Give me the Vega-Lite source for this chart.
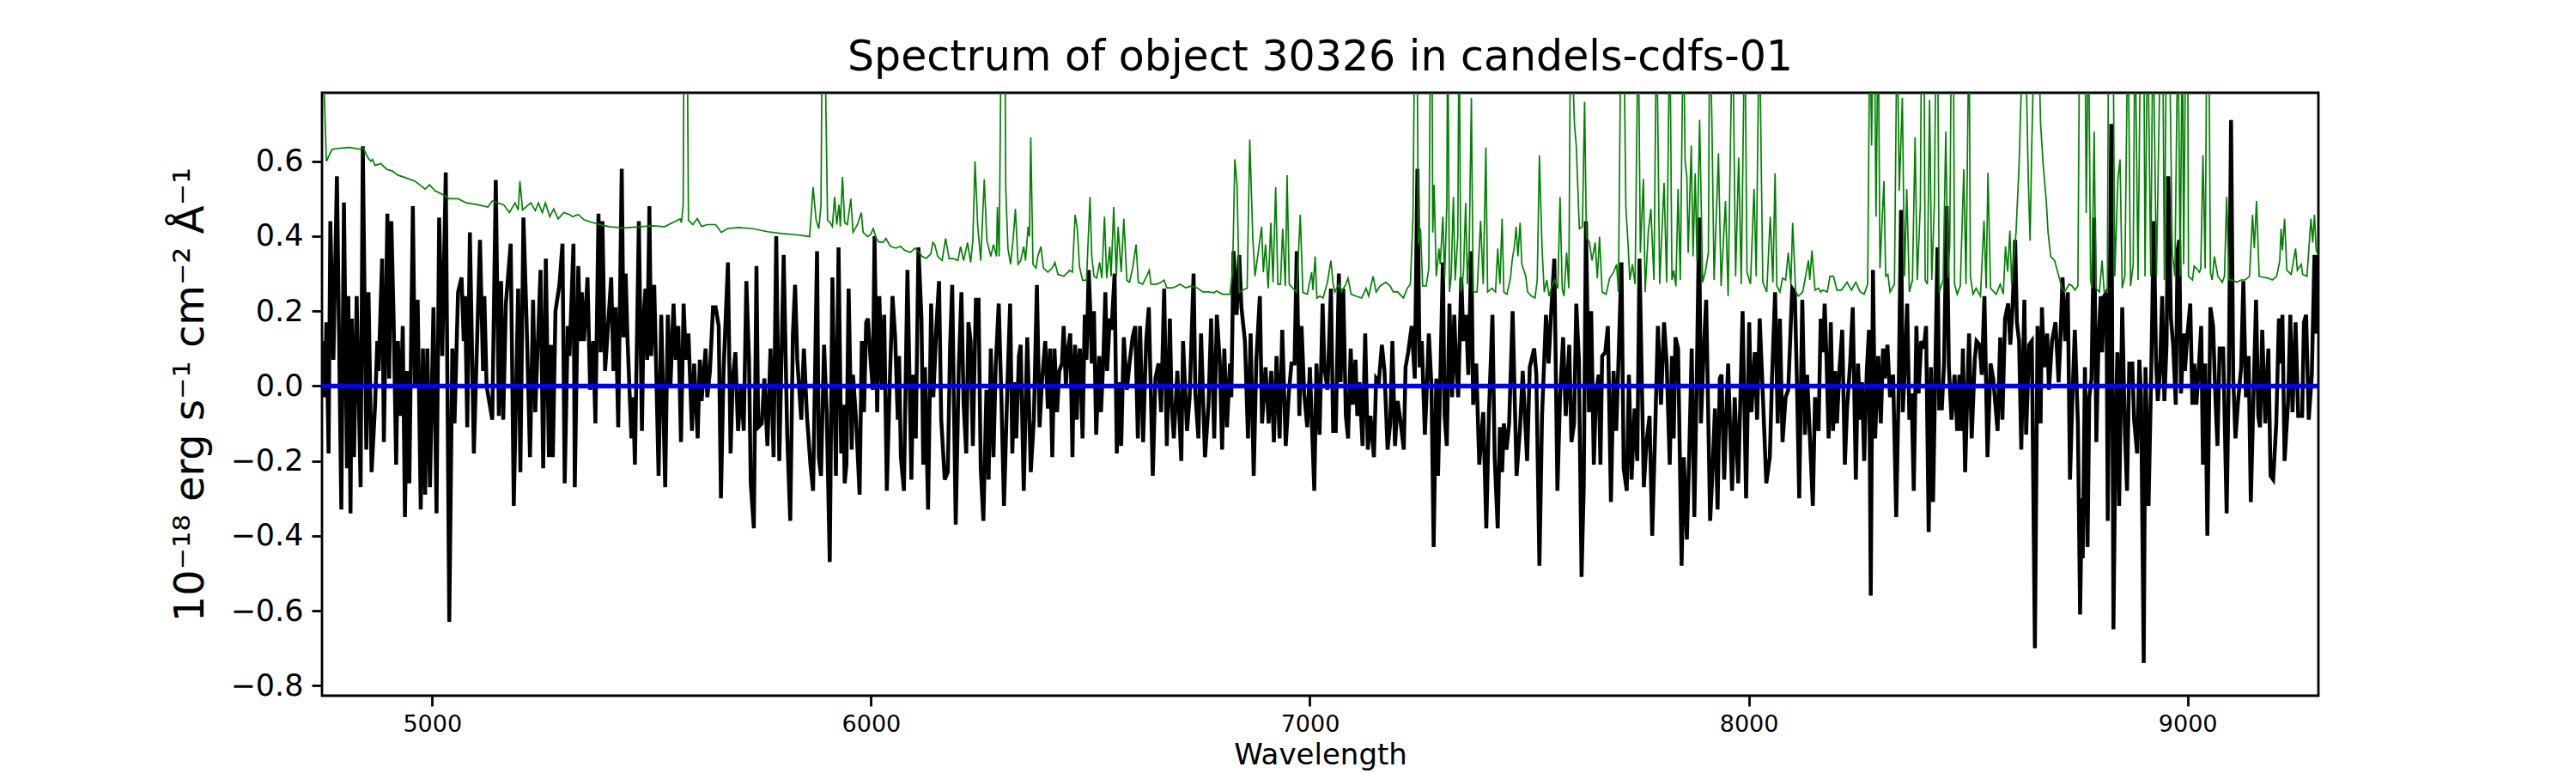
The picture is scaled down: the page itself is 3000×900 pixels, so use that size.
{
  "$schema": "https://vega.github.io/schema/vega-lite/v6.json",
  "width": 2325,
  "height": 702,
  "autosize": {"type": "none"},
  "padding": {"left": 375, "top": 108, "right": 300, "bottom": 90},
  "background": "white",
  "title": {
    "text": "Spectrum of object 30326 in candels-cdfs-01",
    "font": "DejaVu Sans",
    "fontSize": 49,
    "fontWeight": "normal",
    "color": "black",
    "anchor": "middle",
    "baseline": "alphabetic",
    "offset": 23,
    "dy": 46
  },
  "config": {
    "view": {"stroke": "black", "strokeWidth": 2.8},
    "axis": {
      "grid": false,
      "domain": false,
      "tickColor": "black",
      "tickWidth": 2.8,
      "tickSize": 12,
      "labelColor": "black",
      "titleColor": "black",
      "labelFont": "DejaVu Sans",
      "titleFont": "DejaVu Sans",
      "titleFontWeight": "normal"
    }
  },
  "datasets": {
    "flux": [
      {"w":4751,"f":0.12},{"w":4755,"f":-0.03},{"w":4759,"f":0.17},{"w":4764,"f":-0.18},{"w":4768,"f":0.44},{"w":4775,"f":0.07},{"w":4783,"f":0.56},{"w":4793,"f":-0.33},{"w":4799,"f":0.49},{"w":4806,"f":-0.22},{"w":4809,"f":0.24},{"w":4814,"f":-0.34},{"w":4817,"f":0.18},{"w":4822,"f":-0.19},{"w":4828,"f":0.24},{"w":4837,"f":-0.27},{"w":4842,"f":0.64},{"w":4850,"f":-0.17},{"w":4855,"f":0.25},{"w":4862,"f":-0.23},{"w":4870,"f":-0.05},{"w":4875,"f":0.12},{"w":4878,"f":0.04},{"w":4886,"f":0.34},{"w":4890,"f":-0.15},{"w":4898,"f":0.46},{"w":4902,"f":0.02},{"w":4907,"f":0.44},{"w":4912,"f":0.19},{"w":4918,"f":-0.21},{"w":4922,"f":0.12},{"w":4928,"f":-0.08},{"w":4933,"f":0.16},{"w":4938,"f":-0.35},{"w":4943,"f":0.04},{"w":4948,"f":-0.26},{"w":4956,"f":0.48},{"w":4961,"f":0.0},{"w":4967,"f":0.23},{"w":4974,"f":-0.33},{"w":4979,"f":0.10},{"w":4984,"f":-0.29},{"w":4989,"f":0.10},{"w":4995,"f":-0.27},{"w":5003,"f":0.21},{"w":5010,"f":-0.34},{"w":5016,"f":0.45},{"w":5023,"f":0.08},{"w":5031,"f":0.57},{"w":5039,"f":-0.63},{"w":5046,"f":0.10},{"w":5051,"f":-0.10},{"w":5059,"f":0.25},{"w":5067,"f":0.29},{"w":5072,"f":0.12},{"w":5075,"f":0.24},{"w":5080,"f":-0.11},{"w":5086,"f":0.41},{"w":5095,"f":-0.18},{"w":5109,"f":0.39},{"w":5116,"f":0.04},{"w":5119,"f":0.24},{"w":5124,"f":0.0},{"w":5137,"f":-0.09},{"w":5145,"f":0.55},{"w":5152,"f":-0.08},{"w":5157,"f":0.28},{"w":5162,"f":-0.09},{"w":5168,"f":0.22},{"w":5179,"f":0.38},{"w":5186,"f":-0.32},{"w":5196,"f":0.26},{"w":5201,"f":-0.23},{"w":5208,"f":0.45},{"w":5215,"f":0.18},{"w":5223,"f":-0.19},{"w":5230,"f":0.23},{"w":5235,"f":-0.07},{"w":5247,"f":0.31},{"w":5253,"f":-0.22},{"w":5259,"f":0.34},{"w":5266,"f":-0.19},{"w":5271,"f":0.11},{"w":5275,"f":-0.19},{"w":5281,"f":0.20},{"w":5290,"f":0.27},{"w":5297,"f":0.38},{"w":5302,"f":-0.26},{"w":5309,"f":0.16},{"w":5313,"f":0.08},{"w":5322,"f":0.38},{"w":5325,"f":-0.27},
      {"w":5333,"f":0.32},{"w":5338,"f":0.12},{"w":5341,"f":0.25},{"w":5346,"f":0.12},{"w":5354,"f":0.29},{"w":5360,"f":-0.01},{"w":5367,"f":0.12},{"w":5372,"f":-0.10},{"w":5379,"f":0.46},{"w":5384,"f":0.09},{"w":5388,"f":0.44},{"w":5394,"f":0.04},{"w":5398,"f":0.11},{"w":5408,"f":0.29},{"w":5413,"f":0.04},{"w":5418,"f":0.21},{"w":5424,"f":-0.11},{"w":5432,"f":0.58},{"w":5436,"f":0.13},{"w":5441,"f":0.30},{"w":5445,"f":0.13},{"w":5454,"f":-0.14},{"w":5458,"f":-0.03},{"w":5462,"f":-0.21},{"w":5471,"f":0.44},{"w":5478,"f":-0.12},{"w":5482,"f":0.19},{"w":5486,"f":0.26},{"w":5490,"f":0.07},{"w":5495,"f":0.48},{"w":5499,"f":0.08},{"w":5506,"f":0.27},{"w":5510,"f":0.07},{"w":5516,"f":-0.24},{"w":5522,"f":0.19},{"w":5531,"f":-0.27},{"w":5537,"f":0.19},{"w":5543,"f":0.0},{"w":5550,"f":0.22},{"w":5555,"f":0.07},{"w":5561,"f":0.16},{"w":5567,"f":-0.15},{"w":5573,"f":0.22},{"w":5578,"f":0.07},{"w":5584,"f":0.14},{"w":5592,"f":-0.12},{"w":5597,"f":0.06},{"w":5605,"f":-0.14},{"w":5610,"f":0.07},{"w":5614,"f":-0.04},{"w":5623,"f":0.10},{"w":5627,"f":-0.03},{"w":5633,"f":0.04},{"w":5640,"f":0.21},{"w":5646,"f":0.21},{"w":5653,"f":0.16},{"w":5658,"f":-0.30},{"w":5664,"f":0.04},{"w":5674,"f":0.33},{"w":5680,"f":-0.18},{"w":5685,"f":0.02},{"w":5691,"f":0.09},{"w":5697,"f":-0.12},{"w":5704,"f":0.0},{"w":5710,"f":-0.12},{"w":5716,"f":0.28},{"w":5722,"f":0.07},{"w":5726,"f":-0.26},{"w":5733,"f":-0.38},{"w":5739,"f":0.32},{"w":5743,"f":-0.11},{"w":5751,"f":-0.10},{"w":5757,"f":0.02},{"w":5764,"f":-0.16},{"w":5771,"f":0.10},{"w":5778,"f":-0.19},{"w":5784,"f":0.40},{"w":5791,"f":-0.20},{"w":5801,"f":0.35},{"w":5809,"f":-0.13},{"w":5816,"f":-0.36},{"w":5822,"f":0.14},{"w":5827,"f":0.27},{"w":5832,"f":0.07},{"w":5841,"f":-0.09},{"w":5847,"f":0.10},{"w":5854,"f":-0.08},{"w":5862,"f":-0.21},{"w":5868,"f":-0.28},{"w":5877,"f":0.36},{"w":5881,"f":-0.19},{"w":5886,"f":-0.24},{"w":5893,"f":0.11},
      {"w":5899,"f":-0.07},{"w":5906,"f":-0.47},{"w":5912,"f":0.29},{"w":5920,"f":-0.24},{"w":5926,"f":0.37},{"w":5932,"f":-0.18},{"w":5937,"f":-0.05},{"w":5940,"f":-0.26},{"w":5944,"f":-0.21},{"w":5949,"f":0.26},{"w":5956,"f":-0.17},{"w":5959,"f":0.03},{"w":5966,"f":-0.09},{"w":5974,"f":-0.29},{"w":5979,"f":0.12},{"w":5984,"f":-0.07},{"w":5989,"f":0.17},{"w":5993,"f":0.18},{"w":5999,"f":0.07},{"w":6004,"f":-0.01},{"w":6008,"f":0.40},{"w":6014,"f":-0.07},{"w":6019,"f":0.24},{"w":6025,"f":-0.01},{"w":6030,"f":0.19},{"w":6036,"f":-0.28},{"w":6043,"f":0.02},{"w":6049,"f":0.24},{"w":6055,"f":0.13},{"w":6061,"f":-0.09},{"w":6064,"f":0.08},{"w":6068,"f":-0.19},{"w":6075,"f":-0.28},{"w":6083,"f":0.31},{"w":6092,"f":-0.25},{"w":6096,"f":0.03},{"w":6102,"f":-0.14},{"w":6108,"f":0.37},{"w":6115,"f":0.18},{"w":6119,"f":-0.21},{"w":6123,"f":0.05},{"w":6130,"f":-0.33},{"w":6137,"f":0.22},{"w":6142,"f":-0.03},{"w":6149,"f":0.16},{"w":6155,"f":0.28},{"w":6160,"f":-0.09},{"w":6168,"f":-0.25},{"w":6175,"f":-0.23},{"w":6180,"f":0.10},{"w":6185,"f":0.27},{"w":6193,"f":-0.37},{"w":6200,"f":0.05},{"w":6206,"f":0.25},{"w":6211,"f":-0.05},{"w":6217,"f":-0.18},{"w":6222,"f":0.17},{"w":6227,"f":0.12},{"w":6232,"f":-0.16},{"w":6239,"f":0.23},{"w":6245,"f":0.23},{"w":6250,"f":-0.22},{"w":6256,"f":-0.36},{"w":6263,"f":-0.01},{"w":6268,"f":-0.25},{"w":6273,"f":0.10},{"w":6279,"f":-0.19},{"w":6284,"f":0.05},{"w":6291,"f":0.22},{"w":6297,"f":-0.03},{"w":6303,"f":-0.32},{"w":6311,"f":0.01},{"w":6317,"f":0.22},{"w":6322,"f":-0.18},{"w":6326,"f":0.01},{"w":6331,"f":-0.14},{"w":6337,"f":0.08},{"w":6341,"f":0.11},{"w":6348,"f":-0.28},{"w":6356,"f":0.13},{"w":6359,"f":0.0},{"w":6364,"f":-0.23},{"w":6371,"f":-0.09},{"w":6378,"f":0.27},{"w":6384,"f":-0.11},{"w":6390,"f":0.02},{"w":6397,"f":0.12},{"w":6403,"f":-0.06},{"w":6408,"f":0.10},{"w":6413,"f":-0.19},{"w":6418,"f":0.10},{"w":6424,"f":-0.07},{"w":6429,"f":0.04},{"w":6435,"f":0.06},{"w":6439,"f":0.16},{"w":6444,"f":0.0},{"w":6449,"f":0.10},{"w":6454,"f":0.14},{"w":6459,"f":-0.19},
      {"w":6462,"f":0.04},{"w":6465,"f":0.11},{"w":6469,"f":-0.09},{"w":6472,"f":0.06},{"w":6476,"f":0.10},{"w":6482,"f":-0.14},{"w":6487,"f":0.19},{"w":6491,"f":0.07},{"w":6496,"f":0.31},{"w":6500,"f":0.19},{"w":6503,"f":0.06},{"w":6508,"f":0.20},{"w":6513,"f":-0.13},{"w":6520,"f":0.08},{"w":6524,"f":-0.07},{"w":6529,"f":0.06},{"w":6534,"f":0.25},{"w":6538,"f":0.04},{"w":6544,"f":0.18},{"w":6548,"f":0.15},{"w":6555,"f":0.30},{"w":6560,"f":-0.18},{"w":6565,"f":0.01},{"w":6570,"f":-0.16},{"w":6576,"f":0.13},{"w":6583,"f":-0.01},{"w":6589,"f":0.06},{"w":6596,"f":0.13},{"w":6602,"f":0.16},{"w":6608,"f":-0.14},{"w":6613,"f":0.16},{"w":6620,"f":-0.15},{"w":6627,"f":0.12},{"w":6633,"f":0.21},{"w":6642,"f":-0.24},{"w":6648,"f":0.02},{"w":6655,"f":0.06},{"w":6661,"f":-0.07},{"w":6668,"f":0.26},{"w":6674,"f":-0.16},{"w":6681,"f":0.18},{"w":6685,"f":-0.05},{"w":6690,"f":-0.14},{"w":6698,"f":0.04},{"w":6707,"f":-0.20},{"w":6711,"f":0.12},{"w":6720,"f":-0.12},{"w":6726,"f":-0.03},{"w":6735,"f":0.30},{"w":6739,"f":-0.02},{"w":6746,"f":-0.14},{"w":6752,"f":0.14},{"w":6761,"f":-0.19},{"w":6769,"f":-0.05},{"w":6775,"f":0.18},{"w":6782,"f":-0.14},{"w":6788,"f":0.19},{"w":6795,"f":0.06},{"w":6800,"f":-0.17},{"w":6805,"f":0.10},{"w":6811,"f":-0.11},{"w":6818,"f":0.06},{"w":6821,"f":-0.03},{"w":6826,"f":0.36},{"w":6833,"f":0.19},{"w":6839,"f":0.35},{"w":6844,"f":0.21},{"w":6852,"f":0.12},{"w":6859,"f":-0.14},{"w":6865,"f":0.14},{"w":6872,"f":-0.24},{"w":6878,"f":0.07},{"w":6886,"f":0.24},{"w":6891,"f":-0.10},{"w":6899,"f":0.05},{"w":6906,"f":-0.10},{"w":6912,"f":0.04},{"w":6918,"f":-0.15},{"w":6924,"f":0.08},{"w":6931,"f":-0.14},{"w":6937,"f":0.15},{"w":6945,"f":-0.16},{"w":6952,"f":-0.02},{"w":6958,"f":0.06},{"w":6965,"f":0.06},{"w":6970,"f":0.36},{"w":6976,"f":-0.08},{"w":6981,"f":0.16},{"w":6987,"f":-0.02},{"w":6994,"f":-0.11},{"w":7000,"f":0.05},{"w":7010,"f":-0.28},{"w":7015,"f":0.06},{"w":7022,"f":-0.13},{"w":7029,"f":0.22},
      {"w":7033,"f":0.05},{"w":7040,"f":-0.01},{"w":7048,"f":0.26},{"w":7053,"f":-0.12},{"w":7059,"f":-0.12},{"w":7066,"f":0.30},{"w":7070,"f":0.01},{"w":7076,"f":0.26},{"w":7082,"f":-0.08},{"w":7087,"f":-0.14},{"w":7093,"f":0.10},{"w":7098,"f":-0.05},{"w":7104,"f":0.07},{"w":7108,"f":-0.08},{"w":7113,"f":0.01},{"w":7120,"f":-0.16},{"w":7126,"f":0.14},{"w":7132,"f":-0.17},{"w":7138,"f":-0.08},{"w":7146,"f":-0.19},{"w":7151,"f":0.02},{"w":7157,"f":0.01},{"w":7164,"f":0.11},{"w":7170,"f":0.04},{"w":7177,"f":-0.17},{"w":7183,"f":-0.10},{"w":7188,"f":0.12},{"w":7194,"f":-0.16},{"w":7200,"f":-0.04},{"w":7206,"f":-0.09},{"w":7214,"f":-0.17},{"w":7218,"f":0.05},{"w":7224,"f":0.09},{"w":7232,"f":0.16},{"w":7239,"f":0.02},{"w":7245,"f":0.58},{"w":7250,"f":0.05},{"w":7255,"f":0.12},{"w":7262,"f":-0.13},{"w":7266,"f":-0.02},{"w":7271,"f":0.14},{"w":7277,"f":0.0},{"w":7282,"f":-0.43},{"w":7288,"f":0.02},{"w":7292,"f":-0.24},{"w":7297,"f":0.01},{"w":7303,"f":0.33},{"w":7307,"f":-0.08},{"w":7312,"f":-0.16},{"w":7318,"f":0.22},{"w":7324,"f":-0.03},{"w":7329,"f":0.19},{"w":7333,"f":0.06},{"w":7338,"f":-0.03},{"w":7345,"f":0.29},{"w":7350,"f":0.12},{"w":7356,"f":0.19},{"w":7361,"f":0.03},{"w":7368,"f":0.36},{"w":7372,"f":-0.05},{"w":7379,"f":0.06},{"w":7386,"f":-0.21},{"w":7395,"f":-0.07},{"w":7402,"f":-0.38},{"w":7408,"f":-0.07},{"w":7416,"f":0.19},{"w":7421,"f":-0.19},{"w":7428,"f":-0.38},{"w":7433,"f":-0.11},{"w":7438,"f":-0.23},{"w":7442,"f":-0.10},{"w":7448,"f":-0.17},{"w":7454,"f":-0.10},{"w":7462,"f":0.20},{"w":7471,"f":-0.24},{"w":7479,"f":-0.11},{"w":7485,"f":0.04},{"w":7495,"f":-0.20},{"w":7501,"f":0.05},{"w":7511,"f":0.10},{"w":7516,"f":0.03},{"w":7523,"f":-0.48},{"w":7529,"f":-0.08},{"w":7538,"f":0.19},{"w":7544,"f":0.06},{"w":7549,"f":0.18},{"w":7557,"f":0.34},{"w":7564,"f":-0.28},{"w":7570,"f":-0.03},{"w":7577,"f":0.13},{"w":7583,"f":-0.08},{"w":7591,"f":0.11},{"w":7596,"f":-0.15},
      {"w":7602,"f":-0.10},{"w":7607,"f":0.22},{"w":7613,"f":0.07},{"w":7619,"f":-0.51},{"w":7624,"f":-0.27},{"w":7629,"f":0.44},{"w":7636,"f":-0.07},{"w":7641,"f":0.20},{"w":7647,"f":-0.21},{"w":7652,"f":-0.02},{"w":7658,"f":0.03},{"w":7662,"f":-0.21},{"w":7666,"f":0.08},{"w":7673,"f":0.09},{"w":7679,"f":0.16},{"w":7686,"f":-0.31},{"w":7692,"f":0.04},{"w":7698,"f":-0.12},{"w":7703,"f":0.06},{"w":7710,"f":0.33},{"w":7715,"f":-0.22},{"w":7722,"f":-0.28},{"w":7727,"f":0.03},{"w":7733,"f":-0.25},{"w":7740,"f":-0.06},{"w":7746,"f":-0.20},{"w":7751,"f":0.34},{"w":7761,"f":-0.27},{"w":7767,"f":-0.15},{"w":7774,"f":-0.08},{"w":7780,"f":-0.40},{"w":7787,"f":-0.11},{"w":7793,"f":0.16},{"w":7800,"f":-0.05},{"w":7807,"f":0.17},{"w":7813,"f":0.06},{"w":7820,"f":-0.21},{"w":7825,"f":0.08},{"w":7829,"f":-0.14},{"w":7833,"f":0.13},{"w":7839,"f":0.10},{"w":7847,"f":-0.48},{"w":7852,"f":-0.19},{"w":7859,"f":-0.41},{"w":7864,"f":-0.20},{"w":7870,"f":0.10},{"w":7876,"f":-0.35},{"w":7882,"f":0.05},{"w":7887,"f":0.45},{"w":7891,"f":-0.10},{"w":7898,"f":0.11},{"w":7903,"f":0.23},{"w":7912,"f":-0.36},{"w":7917,"f":-0.24},{"w":7923,"f":-0.06},{"w":7929,"f":-0.33},{"w":7934,"f":0.02},{"w":7938,"f":0.03},{"w":7944,"f":-0.25},{"w":7953,"f":0.06},{"w":7962,"f":-0.28},{"w":7968,"f":-0.03},{"w":7976,"f":-0.26},{"w":7986,"f":0.20},{"w":7994,"f":-0.30},{"w":8001,"f":0.17},{"w":8006,"f":-0.07},{"w":8014,"f":0.09},{"w":8019,"f":-0.09},{"w":8025,"f":0.18},{"w":8032,"f":-0.02},{"w":8040,"f":-0.26},{"w":8048,"f":-0.19},{"w":8053,"f":0.02},{"w":8060,"f":0.25},{"w":8066,"f":-0.10},{"w":8071,"f":0.18},{"w":8077,"f":-0.15},{"w":8084,"f":-0.03},{"w":8090,"f":-0.01},{"w":8099,"f":0.26},{"w":8105,"f":0.25},{"w":8110,"f":0.0},{"w":8115,"f":-0.30},{"w":8122,"f":0.23},{"w":8128,"f":-0.13},{"w":8133,"f":0.03},{"w":8138,"f":-0.10},{"w":8146,"f":-0.32},{"w":8151,"f":-0.03},{"w":8159,"f":-0.12},{"w":8164,"f":0.18},
      {"w":8169,"f":0.09},{"w":8173,"f":0.22},{"w":8177,"f":0.08},{"w":8182,"f":-0.14},{"w":8187,"f":0.17},{"w":8192,"f":-0.12},{"w":8197,"f":0.04},{"w":8201,"f":-0.10},{"w":8207,"f":0.05},{"w":8213,"f":0.15},{"w":8219,"f":-0.21},{"w":8224,"f":-0.06},{"w":8231,"f":0.06},{"w":8237,"f":0.21},{"w":8244,"f":-0.25},{"w":8249,"f":0.06},{"w":8254,"f":-0.09},{"w":8258,"f":0.01},{"w":8263,"f":-0.20},{"w":8269,"f":0.04},{"w":8274,"f":0.15},{"w":8278,"f":-0.56},{"w":8283,"f":0.31},{"w":8288,"f":-0.14},{"w":8295,"f":0.08},{"w":8301,"f":-0.10},{"w":8306,"f":0.10},{"w":8310,"f":0.02},{"w":8316,"f":0.11},{"w":8322,"f":-0.03},{"w":8329,"f":0.03},{"w":8336,"f":-0.35},{"w":8342,"f":0.02},{"w":8347,"f":0.47},{"w":8351,"f":-0.07},{"w":8356,"f":0.06},{"w":8361,"f":0.22},{"w":8366,"f":-0.09},{"w":8371,"f":-0.02},{"w":8376,"f":-0.28},{"w":8382,"f":0.16},{"w":8387,"f":-0.02},{"w":8393,"f":0.12},{"w":8399,"f":0.10},{"w":8404,"f":0.16},{"w":8410,"f":-0.39},{"w":8415,"f":0.05},{"w":8420,"f":-0.31},{"w":8430,"f":0.37},{"w":8434,"f":-0.06},{"w":8440,"f":-0.06},{"w":8445,"f":0.06},{"w":8451,"f":0.48},{"w":8456,"f":0.05},{"w":8462,"f":-0.09},{"w":8469,"f":0.03},{"w":8475,"f":-0.12},{"w":8480,"f":0.03},{"w":8484,"f":-0.12},{"w":8488,"f":0.10},{"w":8493,"f":-0.23},{"w":8502,"f":0.14},{"w":8508,"f":-0.14},{"w":8515,"f":0.07},{"w":8519,"f":0.12},{"w":8526,"f":0.11},{"w":8531,"f":0.03},{"w":8537,"f":0.24},{"w":8544,"f":-0.19},{"w":8551,"f":0.06},{"w":8557,"f":0.02},{"w":8567,"f":-0.12},{"w":8573,"f":0.13},{"w":8578,"f":-0.09},{"w":8584,"f":0.18},{"w":8591,"f":0.22},{"w":8596,"f":0.11},{"w":8601,"f":0.21},{"w":8607,"f":0.39},{"w":8611,"f":0.17},{"w":8616,"f":0.12},{"w":8621,"f":-0.17},{"w":8628,"f":0.23},{"w":8632,"f":-0.13},{"w":8639,"f":0.11},{"w":8645,"f":0.12},{"w":8652,"f":-0.70},{"w":8658,"f":0.16},{"w":8665,"f":-0.10},{"w":8668,"f":0.21},{"w":8673,"f":0.05},{"w":8680,"f":0.14},{"w":8684,"f":-0.01},{"w":8691,"f":0.12},{"w":8699,"f":0.17},{"w":8706,"f":0.01},{"w":8710,"f":0.12},{"w":8715,"f":0.29},{"w":8721,"f":0.12},{"w":8727,"f":0.25},{"w":8732,"f":-0.25},
      {"w":8737,"f":-0.05},{"w":8743,"f":0.15},{"w":8750,"f":-0.10},{"w":8755,"f":-0.61},{"w":8759,"f":-0.30},{"w":8761,"f":-0.46},{"w":8766,"f":0.05},{"w":8772,"f":-0.43},{"w":8776,"f":-0.03},{"w":8781,"f":0.02},{"w":8787,"f":0.45},{"w":8792,"f":-0.15},{"w":8797,"f":0.12},{"w":8802,"f":0.24},{"w":8805,"f":0.09},{"w":8810,"f":0.24},{"w":8815,"f":0.25},{"w":8818,"f":-0.36},{"w":8821,"f":0.0},{"w":8826,"f":0.70},{"w":8831,"f":-0.65},{"w":8836,"f":-0.10},{"w":8840,"f":0.09},{"w":8844,"f":-0.32},{"w":8851,"f":0.21},{"w":8857,"f":-0.12},{"w":8862,"f":-0.28},{"w":8867,"f":0.06},{"w":8874,"f":0.06},{"w":8878,"f":-0.09},{"w":8885,"f":-0.18},{"w":8890,"f":0.07},{"w":8894,"f":-0.03},{"w":8900,"f":-0.74},{"w":8904,"f":0.05},{"w":8911,"f":-0.32},{"w":8917,"f":0.03},{"w":8923,"f":0.44},{"w":8928,"f":0.07},{"w":8932,"f":-0.04},{"w":8937,"f":0.04},{"w":8942,"f":0.24},{"w":8947,"f":-0.04},{"w":8952,"f":0.11},{"w":8956,"f":0.56},{"w":8962,"f":0.18},{"w":8967,"f":0.11},{"w":8973,"f":-0.05},{"w":8977,"f":0.36},{"w":8981,"f":0.39},{"w":8985,"f":-0.02},{"w":8991,"f":0.14},{"w":8994,"f":0.04},{"w":8999,"f":0.13},{"w":9006,"f":0.22},{"w":9011,"f":-0.05},{"w":9015,"f":0.06},{"w":9020,"f":-0.05},{"w":9026,"f":0.06},{"w":9031,"f":0.16},{"w":9035,"f":-0.21},{"w":9040,"f":0.06},{"w":9045,"f":-0.40},{"w":9052,"f":0.21},{"w":9058,"f":0.16},{"w":9063,"f":-0.02},{"w":9068,"f":-0.16},{"w":9073,"f":0.10},{"w":9081,"f":0.10},{"w":9089,"f":-0.34},{"w":9094,"f":0.04},{"w":9099,"f":0.71},{"w":9104,"f":0.02},{"w":9109,"f":-0.14},{"w":9115,"f":-0.04},{"w":9122,"f":0.05},{"w":9127,"f":0.28},{"w":9133,"f":-0.03},{"w":9139,"f":0.08},{"w":9144,"f":-0.31},{"w":9150,"f":-0.03},{"w":9156,"f":0.23},{"w":9161,"f":-0.08},{"w":9165,"f":-0.11},{"w":9170,"f":0.15},{"w":9177,"f":-0.10},{"w":9184,"f":0.10},{"w":9189,"f":-0.24},{"w":9195,"f":-0.25},{"w":9202,"f":-0.10},{"w":9208,"f":0.18},{"w":9213,"f":0.06},{"w":9216,"f":0.19},{"w":9221,"f":-0.20},{"w":9229,"f":-0.04},{"w":9234,"f":0.19},{"w":9239,"f":-0.07},{"w":9246,"f":0.17},{"w":9252,"f":-0.08},{"w":9261,"f":-0.08},{"w":9265,"f":0.17},{"w":9270,"f":0.19},{"w":9276,"f":-0.09},{"w":9283,"f":0.03},{"w":9289,"f":0.35},{"w":9293,"f":0.14},{"w":9296,"f":0.35},{"w":9301,"f":0.2}
    ],
    "model": [
      {"w":4700,"f":0},{"w":9350,"f":0}
    ],
    "err": [
      {"w":4751,"f":0.9},{"w":4759,"f":0.60},{"w":4772,"f":0.632},{"w":4791,"f":0.635},{"w":4811,"f":0.637},{"w":4837,"f":0.632},{"w":4843,"f":0.636},{"w":4853,"f":0.611},{"w":4860,"f":0.600},{"w":4864,"f":0.605},{"w":4870,"f":0.589},{"w":4883,"f":0.594},{"w":4896,"f":0.579},{"w":4909,"f":0.574},{"w":4922,"f":0.563},{"w":4935,"f":0.558},{"w":4961,"f":0.547},{"w":4984,"f":0.526},{"w":4994,"f":0.537},{"w":5007,"f":0.521},{"w":5026,"f":0.510},{"w":5039,"f":0.500},{"w":5059,"f":0.500},{"w":5078,"f":0.489},{"w":5104,"f":0.484},{"w":5127,"f":0.478},{"w":5137,"f":0.494},{"w":5163,"f":0.484},{"w":5176,"f":0.463},{"w":5189,"f":0.489},{"w":5196,"f":0.47},{"w":5200,"f":0.547},{"w":5206,"f":0.47},{"w":5209,"f":0.473},{"w":5225,"f":0.489},{"w":5235,"f":0.468},{"w":5242,"f":0.489},{"w":5251,"f":0.463},{"w":5258,"f":0.489},{"w":5268,"f":0.452},{"w":5277,"f":0.473},{"w":5287,"f":0.446},{"w":5300,"f":0.463},{"w":5313,"f":0.458},
      {"w":5320,"f":0.452},{"w":5333,"f":0.458},{"w":5346,"f":0.444},{"w":5366,"f":0.436},{"w":5385,"f":0.430},{"w":5405,"f":0.425},{"w":5437,"f":0.422},{"w":5470,"f":0.425},{"w":5503,"f":0.428},{"w":5529,"f":0.425},{"w":5548,"f":0.436},{"w":5565,"f":0.446},{"w":5568,"f":0.436},{"w":5572,"f":0.483},{"w":5574,"f":1.0},{"w":5581,"f":1.0},{"w":5584,"f":0.442},{"w":5594,"f":0.431},{"w":5604,"f":0.447},{"w":5614,"f":0.426},{"w":5627,"f":0.431},{"w":5646,"f":0.431},{"w":5659,"f":0.410},{"w":5672,"f":0.420},{"w":5698,"f":0.423},{"w":5731,"f":0.420},{"w":5764,"f":0.412},{"w":5796,"f":0.407},{"w":5829,"f":0.404},{"w":5860,"f":0.399},{"w":5864,"f":0.463},{"w":5868,"f":0.531},{"w":5875,"f":0.442},{"w":5881,"f":0.420},{"w":5886,"f":0.483},{"w":5889,"f":1.0},
      {"w":5894,"f":1.0},{"w":5901,"f":0.442},{"w":5907,"f":0.436},{"w":5912,"f":0.426},{"w":5917,"f":0.505},{"w":5922,"f":0.431},{"w":5927,"f":0.484},{"w":5930,"f":0.426},{"w":5935,"f":0.558},{"w":5940,"f":0.436},{"w":5946,"f":0.431},{"w":5954,"f":0.500},{"w":5959,"f":0.410},{"w":5969,"f":0.431},{"w":5978,"f":0.463},{"w":5982,"f":0.410},{"w":5992,"f":0.399},{"w":5999,"f":0.404},{"w":6005,"f":0.420},{"w":6012,"f":0.394},{"w":6018,"f":0.384},{"w":6028,"f":0.384},{"w":6034,"f":0.394},{"w":6044,"f":0.373},{"w":6057,"f":0.368},{"w":6067,"f":0.373},{"w":6077,"f":0.362},{"w":6090,"f":0.357},{"w":6100,"f":0.368},{"w":6110,"f":0.357},{"w":6116,"f":0.346},{"w":6126,"f":0.341},{"w":6136,"f":0.352},{"w":6141,"f":0.383},{"w":6145,"f":0.378},{"w":6152,"f":0.346},{"w":6162,"f":0.335},{"w":6170,"f":0.394},{"w":6178,"f":0.340},{"w":6188,"f":0.340},{"w":6198,"f":0.335},{"w":6204,"f":0.372},{"w":6211,"f":0.335},{"w":6220,"f":0.383},{"w":6227,"f":0.330},{"w":6232,"f":0.388},{"w":6237,"f":0.600},{"w":6243,"f":0.430},{"w":6250,"f":0.335},{"w":6258,"f":0.552},{"w":6264,"f":0.388},{"w":6273,"f":0.346},{"w":6279,"f":0.378},{"w":6286,"f":0.346},{"w":6288,"f":0.478},{"w":6292,"f":0.346},{"w":6297,"f":1.0},{"w":6305,"f":1.0},{"w":6307,"f":0.526},{"w":6312,"f":0.367},{"w":6318,"f":0.325},{"w":6324,"f":0.394},{"w":6329,"f":0.473},{"w":6335,"f":0.325},{"w":6341,"f":0.335},{"w":6348,"f":0.372},{"w":6352,"f":0.335},{"w":6358,"f":0.425},{"w":6361,"f":0.399},{"w":6364,"f":0.664},{"w":6369,"f":0.325},{"w":6376,"f":0.315},{"w":6380,"f":0.346},{"w":6387,"f":0.372},{"w":6393,"f":0.315},{"w":6403,"f":0.304},{"w":6413,"f":0.315},{"w":6419,"f":0.330},{"w":6426,"f":0.298},{"w":6439,"f":0.293},{"w":6449,"f":0.304},
      {"w":6452,"f":0.309},{"w":6459,"f":0.304},{"w":6465,"f":0.457},{"w":6470,"f":0.420},{"w":6475,"f":0.319},{"w":6482,"f":0.282},{"w":6491,"f":0.282},{"w":6499,"f":0.505},{"w":6503,"f":0.346},{"w":6508,"f":0.293},{"w":6514,"f":0.288},{"w":6521,"f":0.330},{"w":6526,"f":0.288},{"w":6532,"f":0.452},{"w":6537,"f":0.288},{"w":6544,"f":0.372},{"w":6547,"f":0.293},{"w":6553,"f":0.478},{"w":6559,"f":0.293},{"w":6563,"f":0.425},{"w":6570,"f":0.304},{"w":6576,"f":0.447},{"w":6583,"f":0.282},{"w":6589,"f":0.277},{"w":6596,"f":0.314},{"w":6604,"f":0.378},{"w":6609,"f":0.277},{"w":6619,"f":0.272},{"w":6628,"f":0.293},{"w":6634,"f":0.309},{"w":6638,"f":0.272},{"w":6651,"f":0.272},{"w":6661,"f":0.277},{"w":6668,"f":0.283},{"w":6674,"f":0.262},{"w":6687,"f":0.262},{"w":6697,"f":0.267},{"w":6704,"f":0.272},{"w":6717,"f":0.262},{"w":6730,"f":0.267},{"w":6743,"f":0.262},{"w":6756,"f":0.251},{"w":6769,"f":0.251},{"w":6782,"f":0.249},{"w":6787,"f":0.254},{"w":6801,"f":0.245},{"w":6818,"f":0.245},{"w":6824,"f":0.309},{"w":6829,"f":0.605},{"w":6834,"f":0.537},{"w":6839,"f":0.250},{"w":6847,"f":0.256},{"w":6857,"f":0.261},{"w":6863,"f":0.658},{"w":6870,"f":0.394},{"w":6875,"f":0.293},{"w":6881,"f":0.346},{"w":6890,"f":0.425},{"w":6894,"f":0.304},{"w":6899,"f":0.378},{"w":6905,"f":0.261},{"w":6911,"f":0.436},{"w":6916,"f":0.277},{"w":6922,"f":0.531},{"w":6927,"f":0.272},{"w":6933,"f":0.272},{"w":6938,"f":0.420},{"w":6944,"f":0.267},{"w":6948,"f":0.563},{"w":6953,"f":0.272},{"w":6961,"f":0.261},{"w":6970,"f":0.251},{"w":6978,"f":0.457},{"w":6984,"f":0.250},{"w":6994,"f":0.245},{"w":7004,"f":0.304},{"w":7007,"f":0.256},{"w":7012,"f":0.346},
      {"w":7016,"f":0.235},{"w":7023,"f":0.240},{"w":7030,"f":0.235},{"w":7040,"f":0.277},{"w":7048,"f":0.335},{"w":7053,"f":0.272},{"w":7057,"f":0.251},{"w":7066,"f":0.272},{"w":7072,"f":0.251},{"w":7082,"f":0.272},{"w":7087,"f":0.288},{"w":7094,"f":0.245},{"w":7105,"f":0.240},{"w":7118,"f":0.235},{"w":7128,"f":0.261},{"w":7134,"f":0.240},{"w":7144,"f":0.293},{"w":7151,"f":0.251},{"w":7160,"f":0.267},{"w":7173,"f":0.277},{"w":7183,"f":0.267},{"w":7190,"f":0.251},{"w":7200,"f":0.251},{"w":7213,"f":0.235},{"w":7222,"f":0.261},{"w":7229,"f":0.272},{"w":7235,"f":0.452},{"w":7239,"f":1.0},{"w":7244,"f":1.0},{"w":7247,"f":0.378},{"w":7252,"f":0.420},{"w":7257,"f":0.267},{"w":7265,"f":0.267},{"w":7271,"f":0.314},{"w":7275,"f":1.0},{"w":7278,"f":1.0},{"w":7280,"f":0.410},{"w":7283,"f":0.537},{"w":7288,"f":0.293},{"w":7294,"f":0.367},{"w":7297,"f":0.325},{"w":7303,"f":0.452},{"w":7307,"f":0.288},{"w":7312,"f":0.483},{"w":7314,"f":1.0},{"w":7318,"f":0.251},{"w":7322,"f":0.293},{"w":7327,"f":0.505},{"w":7331,"f":0.282},{"w":7337,"f":0.399},{"w":7340,"f":1.0},{"w":7344,"f":0.251},{"w":7350,"f":0.304},{"w":7355,"f":0.489},{"w":7359,"f":0.272},{"w":7363,"f":0.367},{"w":7368,"f":0.769},{"w":7372,"f":0.251},{"w":7381,"f":0.251},{"w":7389,"f":0.441},{"w":7395,"f":0.272},{"w":7401,"f":0.637},{"w":7405,"f":0.251},{"w":7415,"f":0.261},{"w":7423,"f":0.251},{"w":7428,"f":0.367},{"w":7433,"f":0.272},{"w":7438,"f":0.447},{"w":7442,"f":0.251},{"w":7449,"f":0.245},{"w":7457,"f":0.288},{"w":7461,"f":0.336},{"w":7466,"f":0.373},{"w":7470,"f":0.425},{"w":7474,"f":0.346},{"w":7479,"f":0.436},{"w":7483,"f":0.325},{"w":7492,"f":0.293},{"w":7496,"f":0.251},{"w":7505,"f":0.240},{"w":7513,"f":0.235},{"w":7518,"f":0.283},{"w":7523,"f":0.616},{"w":7529,"f":0.367},{"w":7534,"f":0.251},{"w":7540,"f":0.283},{"w":7545,"f":0.240},{"w":7553,"f":0.272},{"w":7558,"f":0.283},{"w":7565,"f":0.261},{"w":7570,"f":0.505},{"w":7575,"f":0.261},{"w":7579,"f":0.240},{"w":7585,"f":0.357},{"w":7590,"f":0.261},{"w":7594,"f":1.0},
      {"w":7603,"f":0.695},{"w":7607,"f":0.642},{"w":7614,"f":0.420},{"w":7621,"f":0.425},{"w":7626,"f":0.759},{"w":7630,"f":0.399},{"w":7637,"f":0.383},{"w":7643,"f":0.335},{"w":7650,"f":0.383},{"w":7655,"f":0.288},{"w":7660,"f":0.399},{"w":7666,"f":0.251},{"w":7675,"f":0.245},{"w":7683,"f":0.288},{"w":7692,"f":0.304},{"w":7699,"f":0.325},{"w":7703,"f":0.251},{"w":7709,"f":1.0},{"w":7715,"f":1.0},{"w":7720,"f":0.478},{"w":7725,"f":0.378},{"w":7729,"f":0.283},{"w":7735,"f":0.325},{"w":7741,"f":0.272},{"w":7748,"f":1.0},{"w":7753,"f":0.356},{"w":7760,"f":0.553},{"w":7764,"f":0.251},{"w":7771,"f":0.410},{"w":7777,"f":0.473},{"w":7784,"f":0.283},{"w":7790,"f":1.0},{"w":7797,"f":0.272},{"w":7807,"f":0.542},{"w":7813,"f":0.277},{"w":7820,"f":1.0},{"w":7825,"f":0.283},{"w":7829,"f":0.309},{"w":7834,"f":0.266},{"w":7839,"f":0.526},{"w":7844,"f":0.283},{"w":7851,"f":1.0},{"w":7855,"f":0.600},{"w":7859,"f":0.558},{"w":7862,"f":0.356},{"w":7869,"f":0.642},{"w":7873,"f":0.346},{"w":7878,"f":0.568},{"w":7882,"f":0.335},{"w":7888,"f":0.711},{"w":7895,"f":0.277},{"w":7901,"f":0.304},{"w":7908,"f":0.356},{"w":7911,"f":1.0},{"w":7916,"f":0.706},{"w":7921,"f":0.283},{"w":7931,"f":0.621},{"w":7937,"f":0.267},{"w":7947,"f":0.494},{"w":7953,"f":0.240},{"w":7963,"f":1.0},{"w":7970,"f":0.293},{"w":7977,"f":0.610},{"w":7983,"f":0.272},{"w":7991,"f":1.0},{"w":7996,"f":0.304},{"w":8004,"f":0.272},{"w":8012,"f":0.526},{"w":8017,"f":0.293},{"w":8024,"f":1.0},{"w":8032,"f":0.277},{"w":8041,"f":0.251},{"w":8049,"f":0.452},{"w":8055,"f":0.277},{"w":8060,"f":0.568},{"w":8064,"f":0.267},{"w":8071,"f":0.251},{"w":8077,"f":0.288},{"w":8084,"f":0.283},{"w":8090,"f":0.356},{"w":8096,"f":0.272},{"w":8100,"f":0.436},{"w":8107,"f":0.251},{"w":8113,"f":0.240},{"w":8123,"f":0.251},{"w":8136,"f":0.335},{"w":8139,"f":0.283},{"w":8144,"f":0.362},{"w":8151,"f":0.256},{"w":8159,"f":0.261},{"w":8164,"f":0.251},
      {"w":8169,"f":0.256},{"w":8179,"f":0.251},{"w":8185,"f":0.293},{"w":8193,"f":0.293},{"w":8201,"f":0.256},{"w":8211,"f":0.256},{"w":8224,"f":0.277},{"w":8234,"f":0.256},{"w":8244,"f":0.277},{"w":8254,"f":0.251},{"w":8263,"f":0.245},{"w":8271,"f":0.272},{"w":8276,"f":1.0},{"w":8280,"f":0.642},{"w":8283,"f":1.0},{"w":8286,"f":1.0},{"w":8290,"f":0.452},{"w":8295,"f":1.0},{"w":8299,"f":0.314},{"w":8308,"f":0.547},{"w":8312,"f":0.293},{"w":8317,"f":0.298},{"w":8322,"f":0.251},{"w":8332,"f":0.272},{"w":8338,"f":1.0},{"w":8343,"f":0.521},{"w":8350,"f":0.769},{"w":8355,"f":0.293},{"w":8360,"f":0.526},{"w":8366,"f":0.251},{"w":8373,"f":0.283},{"w":8379,"f":0.664},{"w":8384,"f":0.283},{"w":8391,"f":0.484},{"w":8394,"f":1.0},{"w":8399,"f":1.0},{"w":8402,"f":0.283},{"w":8407,"f":0.272},{"w":8412,"f":0.764},{"w":8417,"f":0.283},{"w":8423,"f":0.484},{"w":8427,"f":1.0},{"w":8430,"f":1.0},{"w":8434,"f":0.251},{"w":8443,"f":0.283},{"w":8449,"f":0.679},{"w":8454,"f":0.288},{"w":8458,"f":0.378},{"w":8462,"f":1.0},{"w":8466,"f":1.0},{"w":8469,"f":0.272},{"w":8475,"f":0.245},{"w":8482,"f":0.267},{"w":8490,"f":0.579},{"w":8495,"f":0.272},{"w":8502,"f":1.0},{"w":8505,"f":0.293},{"w":8511,"f":0.245},{"w":8518,"f":0.261},{"w":8528,"f":0.240},{"w":8536,"f":0.441},{"w":8541,"f":0.261},{"w":8545,"f":0.569},{"w":8551,"f":0.261},{"w":8564,"f":0.245},{"w":8573,"f":0.272},{"w":8580,"f":0.245},{"w":8585,"f":0.373},{"w":8590,"f":0.305},{"w":8595,"f":0.415},{"w":8599,"f":0.272},{"w":8609,"f":0.410},{"w":8616,"f":0.590},{"w":8626,"f":1.0},{"w":8632,"f":0.85},{"w":8637,"f":0.55},{"w":8641,"f":0.388},{"w":8645,"f":0.65},{"w":8652,"f":1.0},{"w":8661,"f":0.9},{"w":8665,"f":0.700},{"w":8671,"f":0.589},{"w":8678,"f":0.494},{"w":8682,"f":0.410},{"w":8688,"f":0.346},{"w":8697,"f":0.335},{"w":8704,"f":0.304},{"w":8714,"f":0.261},{"w":8720,"f":0.251},
      {"w":8730,"f":0.272},{"w":8737,"f":0.267},{"w":8743,"f":0.256},{"w":8750,"f":0.267},{"w":8754,"f":1.0},{"w":8761,"f":1.0},{"w":8766,"f":1.0},{"w":8769,"f":0.462},{"w":8774,"f":1.0},{"w":8779,"f":0.282},{"w":8782,"f":0.261},{"w":8787,"f":0.679},{"w":8791,"f":0.261},{"w":8799,"f":0.251},{"w":8805,"f":0.335},{"w":8810,"f":0.251},{"w":8817,"f":0.251},{"w":8820,"f":1.0},{"w":8825,"f":1.0},{"w":8830,"f":1.0},{"w":8834,"f":0.293},{"w":8841,"f":0.55},{"w":8846,"f":0.605},{"w":8851,"f":0.261},{"w":8857,"f":0.293},{"w":8864,"f":1.0},{"w":8870,"f":0.267},{"w":8876,"f":0.325},{"w":8880,"f":1.0},{"w":8887,"f":0.283},{"w":8893,"f":1.0},{"w":8900,"f":1.0},{"w":8903,"f":0.293},{"w":8909,"f":1.0},{"w":8916,"f":0.293},{"w":8921,"f":1.0},{"w":8929,"f":0.293},{"w":8939,"f":1.0},{"w":8943,"f":1.0},{"w":8947,"f":0.283},{"w":8952,"f":1.0},{"w":8958,"f":1.0},{"w":8965,"f":0.356},{"w":8971,"f":0.293},{"w":8978,"f":1.0},{"w":8983,"f":0.293},{"w":8988,"f":1.0},{"w":8991,"f":0.325},{"w":8996,"f":1.0},{"w":9000,"f":1.0},{"w":9002,"f":0.293},{"w":9011,"f":0.283},{"w":9015,"f":0.320},{"w":9020,"f":0.314},{"w":9027,"f":0.304},{"w":9030,"f":0.314},{"w":9035,"f":0.616},{"w":9040,"f":0.314},{"w":9044,"f":1.0},{"w":9048,"f":1.0},{"w":9052,"f":0.304},{"w":9056,"f":0.283},{"w":9061,"f":0.346},{"w":9069,"f":0.293},{"w":9079,"f":0.277},{"w":9084,"f":0.293},{"w":9089,"f":0.505},{"w":9094,"f":0.283},{"w":9102,"f":0.283},{"w":9112,"f":0.277},{"w":9122,"f":0.283},{"w":9131,"f":0.283},{"w":9141,"f":0.293},{"w":9148,"f":0.457},{"w":9152,"f":0.368},{"w":9157,"f":0.494},{"w":9163,"f":0.293},{"w":9170,"f":0.291},{"w":9184,"f":0.288},{"w":9193,"f":0.283},{"w":9203,"f":0.293},{"w":9210,"f":0.335},{"w":9213,"f":0.420},{"w":9216,"f":0.362},{"w":9221,"f":0.447},{"w":9226,"f":0.309},{"w":9236,"f":0.298},{"w":9246,"f":0.367},{"w":9250,"f":0.309},{"w":9259,"f":0.325},{"w":9262,"f":0.298},{"w":9272,"f":0.293},{"w":9281,"f":0.447},{"w":9285,"f":0.383},{"w":9289,"f":0.457},{"w":9293,"f":0.362},{"w":9298,"f":0.350}
    ]
  },
  "layer": [
    {
      "data": {"name": "flux"},
      "mark": {"type": "line", "color": "black", "strokeWidth": 4.5, "clip": true},
      "encoding": {
        "x": {
          "field": "w",
          "type": "quantitative",
          "scale": {"domain": [4749, 9298], "nice": false, "zero": false},
          "axis": {
            "title": "Wavelength",
            "values": [5000, 6000, 7000, 8000, 9000],
            "format": "d",
            "labelFontSize": 27,
            "titleFontSize": 34,
            "labelPadding": 8,
            "titlePadding": 6
          }
        },
        "y": {
          "field": "f",
          "type": "quantitative",
          "scale": {"domain": [-0.827, 0.783], "nice": false, "zero": false},
          "axis": {
            "title": "10⁻¹⁸ erg s⁻¹ cm⁻² Å⁻¹",
            "values": [-0.8, -0.6, -0.4, -0.2, 0, 0.2, 0.4, 0.6],
            "format": ".1f",
            "labelFontSize": 35,
            "titleFontSize": 48,
            "labelPadding": 10,
            "titlePadding": 22
          }
        }
      }
    },
    {
      "data": {"name": "model"},
      "mark": {"type": "line", "color": "#0000ff", "strokeWidth": 5.5, "clip": true},
      "encoding": {
        "x": {"field": "w", "type": "quantitative"},
        "y": {"field": "f", "type": "quantitative"}
      }
    },
    {
      "data": {"name": "err"},
      "mark": {"type": "line", "color": "#008000", "strokeWidth": 1.7, "clip": true},
      "encoding": {
        "x": {"field": "w", "type": "quantitative"},
        "y": {"field": "f", "type": "quantitative"}
      }
    }
  ]
}
